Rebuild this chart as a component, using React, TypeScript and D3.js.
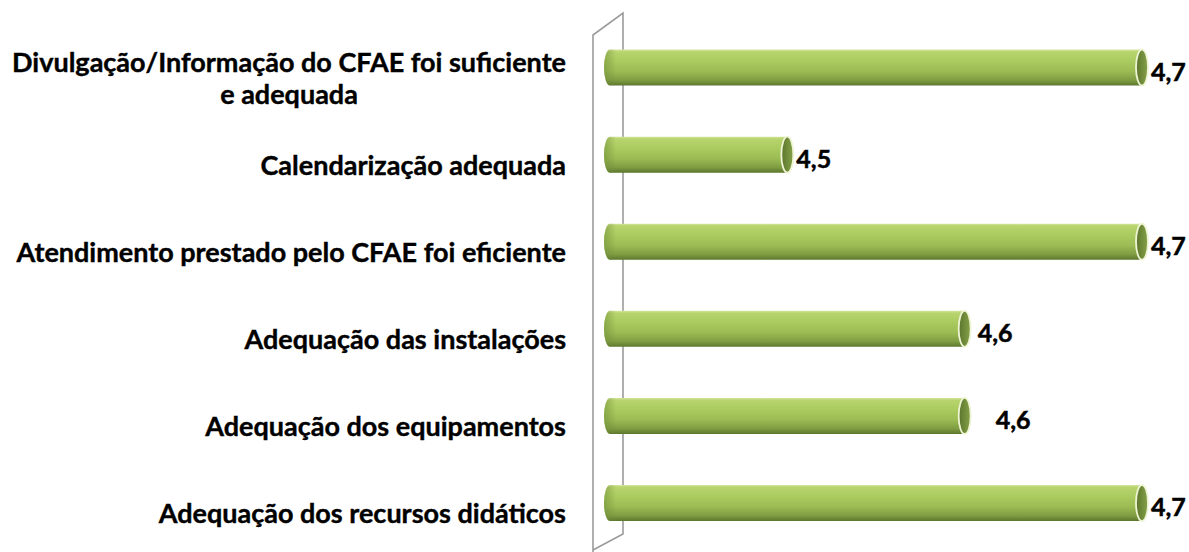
import React, { useRef, useEffect } from 'react';
import * as d3 from 'd3';

const categories = [
  'Divulgação/Informação do CFAE foi suficiente e adequada',
  'Calendarização adequada',
  'Atendimento prestado pelo CFAE foi eficiente',
  'Adequação das instalações',
  'Adequação dos equipamentos',
  'Adequação dos recursos didáticos',
];
const values = [4.7, 4.5, 4.7, 4.6, 4.6, 4.7];
const axisMin = 4.4;
const axisMax = 4.7;

// data labels in the original are not all placed the same distance from the bar end
const labelNudge = [0, 0, 0, 4, 22, 0];

const ptFormat = d3.formatLocale({ decimal: ',', thousands: ' ', grouping: [3], currency: ['', '€'] }).format('.1f');

const wrap = (s: string, max = 45) => {
  if (s.length <= max) return [s];
  const i = s.lastIndexOf(' ', max);
  return [s.slice(0, i), s.slice(i + 1)];
};

const App = () => {
  const svgRef = useRef<SVGSVGElement>(null);

  useEffect(() => {
    const svg = d3.select(svgRef.current);
    const width = 1189;
    const height = 552;
    svg.selectAll('*').remove();
    svg.attr('width', width).attr('height', height);

    const font = 'Lato, "Open Sans", sans-serif';
    const x = d3.scaleLinear().domain([axisMin, axisMax]).range([610, 1142]);
    const y = d3.scaleBand().domain(categories).range([24, 546.6]).padding(0);
    const barH = 36;
    const rx = 6;

    const defs = svg.append('defs');
    const body = defs.append('linearGradient').attr('id', 'barBody')
      .attr('x1', 0).attr('y1', 0).attr('x2', 0).attr('y2', 1);
    [
      ['0%', '#d5e69e'], ['6%', '#b8d46e'], ['30%', '#abcc60'],
      ['60%', '#9cbc54'], ['85%', '#7f9d42'], ['100%', '#5c772d'],
    ].forEach(([o, c]) => body.append('stop').attr('offset', o).attr('stop-color', c));

    const face = defs.append('linearGradient').attr('id', 'capFace')
      .attr('x1', 0).attr('y1', 0).attr('x2', 1).attr('y2', 0);
    [['0%', '#5b752b'], ['100%', '#86a24a']]
      .forEach(([o, c]) => face.append('stop').attr('offset', o).attr('stop-color', c));

    const leftEnd = defs.append('linearGradient').attr('id', 'leftEnd')
      .attr('x1', 0).attr('y1', 0).attr('x2', 1).attr('y2', 0);
    [['0%', '#6f8c38', 0.55], ['100%', '#6f8c38', 0]]
      .forEach(([o, c, a]) => leftEnd.append('stop').attr('offset', o as string)
        .attr('stop-color', c as string).attr('stop-opacity', a as number));

    // 3D wall on the left
    const wall = svg.append('g').attr('fill', 'none').attr('stroke', '#9b9b9b').attr('stroke-width', 1.6);
    wall.append('path').attr('d', 'M593,552 V35 L623,13 V534 L593,550');

    const bars = svg.append('g');
    categories.forEach((c, i) => {
      const cy = y(c)! + y.bandwidth() / 2;
      const x0 = x(axisMin);
      const x1 = x(values[i]);
      const top = cy - barH / 2;
      const bot = cy + barH / 2;
      const g = bars.append('g');
      g.append('path')
        .attr('d', `M${x1},${top} H${x0} A${rx},${barH / 2} 0 0 0 ${x0},${bot} H${x1} Z`)
        .attr('fill', 'url(#barBody)');
      g.append('path')
        .attr('d', `M${x0 + 6},${top} H${x0} A${rx},${barH / 2} 0 0 0 ${x0},${bot} H${x0 + 6} Z`)
        .attr('fill', 'url(#leftEnd)');
      g.append('ellipse')
        .attr('cx', x1).attr('cy', cy).attr('rx', rx).attr('ry', barH / 2)
        .attr('fill', 'url(#capFace)')
        .attr('stroke', '#eef4d4').attr('stroke-width', 1.8);

      svg.append('text')
        .attr('x', x1 + rx + 3 + labelNudge[i])
        .attr('y', cy + 13)
        .attr('font-family', font)
        .attr('font-weight', 700)
        .attr('font-size', 25)
        .attr('fill', '#000')
        .attr('stroke', '#000')
        .attr('stroke-width', 0.5)
        .text(ptFormat(values[i]));
    });

    const labelX = 566;
    const lineH = 32;
    categories.forEach((c) => {
      const cy = y(c)! + y.bandwidth() / 2;
      const lines = wrap(c);
      const t = svg.append('text')
        .attr('font-family', font)
        .attr('font-weight', 700)
        .attr('font-size', 27)
        .attr('fill', '#000')
        .attr('stroke', '#000')
        .attr('stroke-width', 0.4);
      const spans = lines.map((l, k) => t.append('tspan')
        .attr('y', cy + 20 - ((lines.length - 1) * lineH) / 2 + k * lineH)
        .text(l));
      if (lines.length === 1) {
        t.attr('text-anchor', 'end');
        spans[0].attr('x', labelX);
      } else {
        const w = (spans[0].node() as SVGTSpanElement).getComputedTextLength();
        t.attr('text-anchor', 'middle');
        spans.forEach((s) => s.attr('x', labelX - w / 2));
      }
    });
  }, []);

  return (
    <svg ref={svgRef} width={1189} height={552} style={{ position: 'absolute', left: 0, top: 0 }}></svg>
  );
};

export default App;
